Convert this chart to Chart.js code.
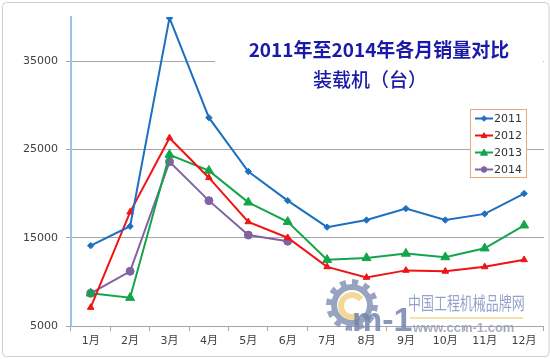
<!DOCTYPE html>
<html><head><meta charset="utf-8">
<script src="https://cdn.jsdelivr.net/npm/chart.js@4/dist/chart.umd.min.js"></script>
<style>html,body{margin:0;padding:0;background:#fff}#wrap{width:550px;height:359px;position:relative}</style>
</head><body><div id="wrap"><canvas id="c"></canvas></div>
<script>
const months = ['1月','2月','3月','4月','5月','6月','7月','8月','9月','10月','11月','12月'];
const s2011 = [14100,16300,39900,28600,22500,19200,16200,17000,18300,17000,17700,20000];
const s2012 = [7100,17900,26300,21800,16800,15000,11700,10500,11300,11200,11700,12500];
const s2013 = [8700,8200,24400,22600,19000,16800,12500,12700,13200,12800,13800,16400];
const s2014 = [8700,11200,23600,19200,15300,14600,null,null,null,null,null,null];
const seriesNames = ['2011','2012','2013','2014'];
const yTicks = [5000,15000,25000,35000];
const titleText = '2011年至2014年各月销量对比';
const subTitleText = '装载机（台）';

const colors = ['#1f6fc1','#f01414','#13a54a','#8064a2'];
const styles = [
  {ps:'rectRot', r:3.2},
  {ps:'triangle', r:3.8},
  {ps:'triangle', r:5.2},
  {ps:'circle', r:4}
];
const allSeries = [s2011,s2012,s2013,s2014];
const FONT = "'DejaVu Sans','Noto Sans CJK SC',sans-serif";

function drawMarker(ctx, style, r, x, y, color){
  ctx.save();
  ctx.fillStyle = color; ctx.strokeStyle = color; ctx.lineWidth = 1;
  ctx.beginPath();
  if(style==='circle'){ ctx.arc(x,y,r,0,Math.PI*2); }
  else if(style==='rectRot'){ ctx.moveTo(x,y-r); ctx.lineTo(x+r,y); ctx.lineTo(x,y+r); ctx.lineTo(x-r,y); ctx.closePath(); }
  else { const h=r*1.5; ctx.moveTo(x,y-h*0.66); ctx.lineTo(x+r,y+h*0.5); ctx.lineTo(x-r,y+h*0.5); ctx.closePath(); }
  ctx.fill(); ctx.stroke();
  ctx.restore();
}

const decor = {
  id:'decor',
  beforeDatasetsDraw(chart){
    const ctx = chart.ctx;
    ctx.save();
    ctx.fillStyle = '#fff';
    ctx.fillRect(215, 28, 328, 76);
    ctx.fillRect(470, 109, 57, 69);
    ctx.fillStyle = '#1a1aa8';
    ctx.textAlign = 'center'; ctx.textBaseline = 'middle';
    ctx.font = "bold 19px 'Noto Sans CJK SC', sans-serif";
    ctx.fillText(titleText, 379, 50);
    ctx.font = "500 19px 'Noto Sans CJK SC', sans-serif";
    ctx.fillText(subTitleText, 370, 80);
    ctx.restore();
  },
  afterDatasetsDraw(chart){
    const ctx = chart.ctx;
    ctx.save();
    ctx.strokeStyle = '#e9a97c'; ctx.lineWidth = 1;
    ctx.strokeRect(470.5, 109.5, 56, 68);
    ctx.font = "11px 'DejaVu Sans', sans-serif";
    ctx.textBaseline = 'middle'; ctx.textAlign = 'left'; ctx.fillStyle = '#333';
    seriesNames.forEach((n,i)=>{
      const y = 118.5 + i*17;
      ctx.strokeStyle = colors[i]; ctx.lineWidth = 2;
      ctx.beginPath(); ctx.moveTo(475,y); ctx.lineTo(493,y); ctx.stroke();
      drawMarker(ctx, styles[i].ps, i===2?3.5:2.8, 484, y, colors[i]);
      ctx.fillStyle = '#333';
      ctx.fillText(n, 494, y+0.5);
    });
    ctx.restore();
  },
  afterDraw(chart){
    const ctx = chart.ctx;
    ctx.save();
    // outer frame
    ctx.strokeStyle = '#cfcfcf'; ctx.lineWidth = 1;
    ctx.beginPath();
    if (ctx.roundRect) ctx.roundRect(2.5,2.5,546.5,354,4); else ctx.rect(2.5,2.5,546.5,354);
    ctx.stroke();
    // watermark
    ctx.globalAlpha = 0.8;
    const cx=352, cy=305;
    ctx.fillStyle = '#7d8cb0';
    ctx.beginPath();
    const teeth=12;
    for(let i=0;i<teeth*2;i++){
      const a0 = i*Math.PI/teeth, a1=(i+1)*Math.PI/teeth;
      const rr = (i%2===0)?26:21;
      ctx.lineTo(cx+rr*Math.cos(a0), cy+rr*Math.sin(a0));
      ctx.lineTo(cx+rr*Math.cos(a1), cy+rr*Math.sin(a1));
    }
    ctx.closePath(); ctx.fill();
    ctx.globalAlpha = 1;
    ctx.fillStyle = '#fff';
    ctx.beginPath(); ctx.arc(cx,cy,15,0,Math.PI*2); ctx.fill();
    ctx.strokeStyle = '#f3d898'; ctx.lineWidth = 6;
    ctx.beginPath(); ctx.arc(cx,cy+1,11,0.3*Math.PI,1.8*Math.PI); ctx.stroke();
    ctx.globalAlpha = 0.85;
    ctx.fillStyle = '#7485ad';
    ctx.font = "bold 34px 'Liberation Sans Narrow','Liberation Sans',sans-serif";
    ctx.textAlign='left'; ctx.textBaseline='alphabetic';
    ctx.fillText('m-1', 352, 331);
    ctx.fillStyle = '#8392be';
    ctx.save(); ctx.translate(408, 303); ctx.scale(0.72,1);
    ctx.font = "18px 'Noto Sans CJK SC', sans-serif";
    ctx.textBaseline='middle';
    ctx.fillText('中国工程机械品牌网', 0, 0);
    ctx.restore();
    ctx.strokeStyle = '#f3dc9c'; ctx.lineWidth = 2;
    ctx.beginPath(); ctx.moveTo(410,318); ctx.lineTo(523,318); ctx.stroke();
    ctx.fillStyle = '#9aa0b4';
    ctx.font = "bold 13px 'Liberation Sans',sans-serif";
    ctx.textBaseline='middle';
    ctx.fillText('www.ccm-1.com', 413, 328);
    ctx.restore();
  }
};

new Chart(document.getElementById('c'), {
  type:'line',
  data:{
    labels: months,
    datasets: allSeries.map((d,i)=>({
      label: seriesNames[i], data: d,
      borderColor: colors[i], backgroundColor: colors[i],
      borderWidth: 2, pointStyle: styles[i].ps, pointRadius: styles[i].r,
      pointBorderWidth: 1, pointBackgroundColor: colors[i], pointBorderColor: colors[i],
      tension: 0, spanGaps:false, fill:false
    }))
  },
  options:{
    responsive:true, maintainAspectRatio:false, animation:false,
    devicePixelRatio:1,
    layout:{padding:{top:17,left:0,right:1,bottom:0}},
    plugins:{legend:{display:false}, title:{display:false}, tooltip:{enabled:false}},
    scales:{
      x:{
        offset:true,
        grid:{display:true, drawOnChartArea:false, drawTicks:true, tickLength:5, color:'#a6a6a6', offset:true},
        border:{color:'#a6a6a6', width:1},
        ticks:{font:{family:FONT, size:11}, color:'#404040', padding:4, maxRotation:0, autoSkip:false},
        afterFit(s){ s.height = 33; }
      },
      y:{
        min:5000, max:40000,
        afterBuildTicks(s){ s.ticks = yTicks.map(v=>({value:v})); },
        grid:{color:'#a6a6a6', lineWidth:1, tickLength:5, drawTicks:true},
        border:{color:'#9cc2e5', width:2},
        ticks:{font:{family:FONT, size:11}, color:'#404040', padding:8, callback:(v)=>String(v)},
        afterFit(s){ s.width = 71; }
      }
    }
  },
  plugins:[decor]
});
</script></body></html>
